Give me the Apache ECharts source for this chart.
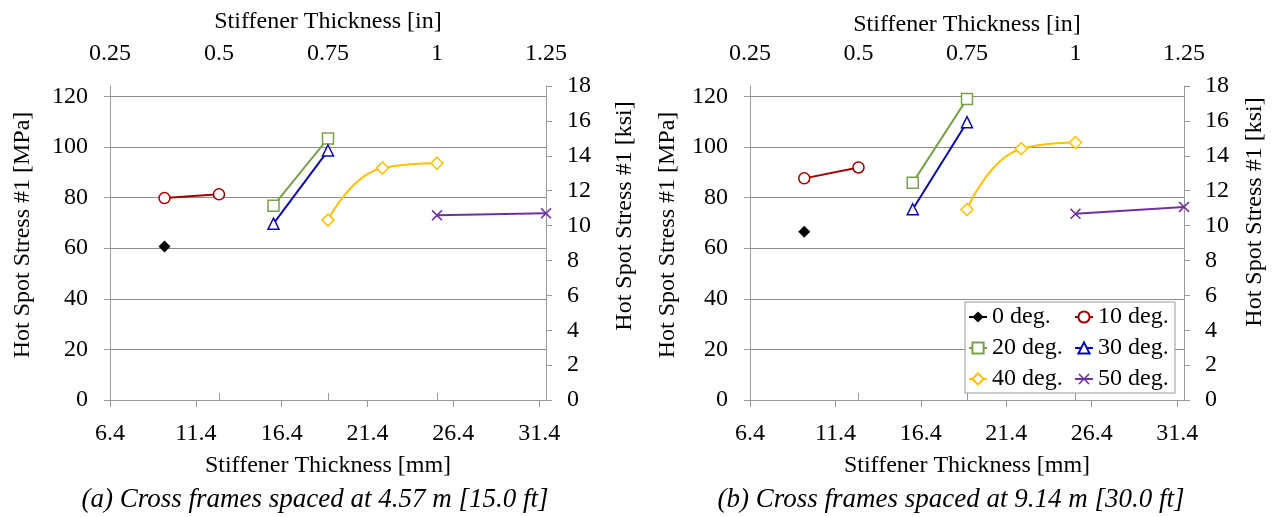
<!DOCTYPE html>
<html>
<head>
<meta charset="utf-8">
<script src="https://cdn.jsdelivr.net/npm/echarts@6/dist/echarts.min.js"></script>
<style>
html,body{margin:0;padding:0;background:#fff;}
#chart{width:1277px;height:517px;}
</style>
</head>
<body>
<div id="chart"></div>
<script>
// ---- data ----
const seriesNames = ['0 deg.', '10 deg.', '20 deg.', '30 deg.', '40 deg.', '50 deg.'];
// stiffener thickness [in]
const thk0  = [0.375];
const thk10 = [0.375, 0.5];
const thk20 = [0.625, 0.75];
const thk30 = [0.625, 0.75];
const thk40 = [0.75, 0.875, 1.0];
const thk50 = [1.0, 1.25];
// (a) cross frames at 4.57 m — hot spot stress [MPa]
const a0  = [60.7];
const a10 = [79.8, 81.3];
const a20 = [76.8, 103.4];
const a30 = [69.7, 98.6];
const a40 = [71.1, 91.7, 93.6];
const a50 = [73.0, 73.8];
// (b) cross frames at 9.14 m — hot spot stress [MPa]
const b0  = [66.5];
const b10 = [87.6, 91.9];
const b20 = [85.9, 119.0];
const b30 = [75.4, 109.8];
const b40 = [75.3, 99.3, 101.8];
const b50 = [73.6, 76.3];
// tick labels
const mmTickValues = [6.35, 11.35, 16.35, 21.35, 26.35, 31.35];
const mmTickLabels = ['6.4', '11.4', '16.4', '21.4', '26.4', '31.4'];
const mpaTickValues = [0, 20, 40, 60, 80, 100, 120];
const captions = ['(a) Cross frames spaced at 4.57 m [15.0 ft]', '(b) Cross frames spaced at 9.14 m [30.0 ft]'];

// ---- style ----
const FONT = 'Liberation Serif';
const AXIS_COLOR = '#9a9a9a';
const GRID_COLOR = '#8c8c8c';
const colors = ['#000000', '#a00000', '#79a14b', '#0a0aa8', '#ffc000', '#7030a0'];
const symbols = ['diamond', 'circle', 'rect', 'triangle', 'diamond',
  'path://M0,1 L1,0 L5,4 L9,0 L10,1 L6,5 L10,9 L9,10 L5,6 L1,10 L0,9 L4,5 Z'];
const symbolSizes = [12, 11, 11, 11, 12, 11];
const fills = ['#000000', '#ffffff', '#ffffff', '#ffffff', '#ffffff', '#7030a0'];
const MPA_PER_KSI = 6.89476;

const txt = {fontFamily: FONT, fontSize: 24, color: '#000'};

function makeSeries(xIdx, yIdx, thks, vals) {
  return thks.map((t, i) => ({
    name: seriesNames[i],
    type: 'line',
    xAxisIndex: xIdx,
    yAxisIndex: yIdx,
    data: t.map((x, j) => [x, vals[i][j]]),
    symbol: symbols[i],
    symbolSize: symbolSizes[i],
    smooth: i === 4 ? 0.5 : false,
    clip: false,
    lineStyle: {color: colors[i], width: 2},
    itemStyle: {color: fills[i], borderColor: colors[i], borderWidth: i === 0 || i === 5 ? 0 : 1.5},
    emphasis: {disabled: true},
    z: 3
  }));
}

function mmAxis(gridIndex) {
  return {
    type: 'value', gridIndex, position: 'bottom',
    min: 6.35, max: 31.75,
    name: 'Stiffener Thickness [mm]', nameLocation: 'middle', nameGap: 54,
    nameTextStyle: txt,
    axisLine: {show: true, lineStyle: {color: AXIS_COLOR, width: 1}},
    axisTick: {show: true, inside: false, length: 7, customValues: mmTickValues, lineStyle: {color: AXIS_COLOR}},
    axisLabel: Object.assign({margin: 22, customValues: mmTickValues,
      formatter: v => { const k = mmTickValues.findIndex(t => Math.abs(t - v) < 0.01); return k >= 0 ? mmTickLabels[k] : ''; }}, txt),
    splitLine: {show: false}
  };
}
function inAxis(gridIndex, gap) {
  return {
    type: 'value', gridIndex, position: 'top',
    min: 0.25, max: 1.25, interval: 0.25,
    name: 'Stiffener Thickness [in]', nameLocation: 'middle', nameGap: gap,
    nameTextStyle: txt,
    axisLine: {show: true, lineStyle: {color: AXIS_COLOR, width: 1}},
    axisTick: {show: true, inside: false, length: 7, lineStyle: {color: AXIS_COLOR}},
    axisLabel: Object.assign({margin: 20}, txt),
    splitLine: {show: false}
  };
}
function mpaAxis(gridIndex, gap, pad) {
  return {
    type: 'value', gridIndex, position: 'left',
    min: 0, max: 18 * MPA_PER_KSI,
    name: 'Hot Spot Stress #1 [MPa]', nameLocation: 'middle', nameGap: gap, nameRotate: 90,
    nameTextStyle: Object.assign({padding: [0, 0, 0, pad]}, txt),
    axisLine: {show: true, lineStyle: {color: AXIS_COLOR, width: 1}},
    axisTick: {show: true, inside: false, length: 6, customValues: mpaTickValues, lineStyle: {color: AXIS_COLOR}},
    axisLabel: Object.assign({margin: 22, customValues: mpaTickValues}, txt),
    splitLine: {show: true, lineStyle: {color: GRID_COLOR, width: 1}}
  };
}
function ksiAxis(gridIndex, gap, pad) {
  return {
    type: 'value', gridIndex, position: 'right',
    min: 0, max: 18, interval: 2,
    name: 'Hot Spot Stress #1 [ksi]', nameLocation: 'middle', nameGap: gap, nameRotate: 90,
    nameTextStyle: Object.assign({padding: [0, 0, 0, pad]}, txt),
    axisLine: {show: true, lineStyle: {color: AXIS_COLOR, width: 1}},
    axisTick: {show: true, inside: false, length: 6, lineStyle: {color: AXIS_COLOR}},
    axisLabel: Object.assign({margin: 21}, txt),
    splitLine: {show: false}
  };
}

const option = {
  animation: false,
  backgroundColor: '#fff',
  textStyle: {fontFamily: FONT},
  title: [
    {text: captions[0], left: 310, top: 481, textAlign: 'center',
     textStyle: {fontFamily: FONT, fontSize: 27, fontStyle: 'italic', fontWeight: 'normal', color: '#000'}},
    {text: captions[1], left: 946, top: 481, textAlign: 'center',
     textStyle: {fontFamily: FONT, fontSize: 27, fontStyle: 'italic', fontWeight: 'normal', color: '#000'}}
  ],
  legend: {
    data: seriesNames,
    orient: 'horizontal',
    left: 965, top: 302, width: 212,
    padding: [3, 2, 2, 3],
    itemGap: 7, itemWidth: 18, itemHeight: 14,
    backgroundColor: '#fff', borderColor: '#9a9a9a', borderWidth: 1,
    textStyle: {fontFamily: FONT, fontSize: 24, color: '#000', width: 75, lineHeight: 22},
    selectedMode: false
  },
  grid: [
    {left: 110, top: 86, width: 436, height: 314},
    {left: 750, top: 86, width: 434, height: 314}
  ],
  xAxis: [mmAxis(0), inAxis(0, 52), mmAxis(1), inAxis(1, 47)],
  yAxis: [mpaAxis(0, 75, 16), ksiAxis(0, 67, 54), mpaAxis(1, 70, 16), ksiAxis(1, 59, 62)],
  series: [].concat(
    makeSeries(1, 0, [thk0, thk10, thk20, thk30, thk40, thk50], [a0, a10, a20, a30, a40, a50]),
    makeSeries(3, 2, [thk0, thk10, thk20, thk30, thk40, thk50], [b0, b10, b20, b30, b40, b50])
  )
};

const chart = echarts.init(document.getElementById('chart'), null, {renderer: 'canvas'});
chart.setOption(option);
</script>
</body>
</html>
